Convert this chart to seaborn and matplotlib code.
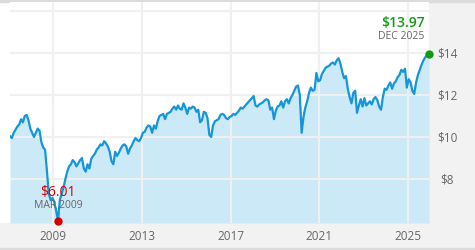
import matplotlib
matplotlib.use("Agg")
import matplotlib.pyplot as plt
import numpy as np
import pandas as pd
import seaborn as sns
from matplotlib.patches import Rectangle

# ---------------- data (monthly closing price, $) ----------------
p2007 = [10.05, 9.95, 10.2, 10.35, 10.5, 10.6, 10.85, 10.7, 11.0, 11.05, 10.8, 10.4]
p2008 = [10.2, 10.0, 10.2, 10.4, 10.3, 9.75, 9.5, 9.4, 8.4, 7.3, 7.0, 7.1]
p2009 = [6.9, 6.5, 6.01, 7.0, 7.3, 7.6, 8.0, 8.35, 8.6, 8.7, 8.9, 8.8]
p2010 = [8.6, 8.75, 8.9, 9.0, 8.5, 8.35, 8.7, 8.5, 8.95, 9.1, 9.2, 9.4]
p2011 = [9.5, 9.65, 9.6, 9.8, 9.7, 9.55, 9.3, 8.85, 8.7, 9.3, 9.1, 9.25]
p2012 = [9.45, 9.6, 9.65, 9.55, 9.2, 9.45, 9.6, 9.8, 9.95, 9.85, 9.8, 9.95]
p2013 = [10.2, 10.25, 10.45, 10.55, 10.5, 10.2, 10.55, 10.4, 10.75, 11.0, 11.05, 11.1]
p2014 = [10.85, 11.1, 11.15, 11.2, 11.35, 11.45, 11.3, 11.5, 11.35, 11.3, 11.6, 11.4]
p2015 = [11.1, 11.4, 11.35, 11.45, 11.4, 11.2, 11.3, 10.7, 10.8, 11.2, 11.15, 10.9]
p2016 = [10.1, 10.0, 10.55, 10.75, 10.8, 10.85, 11.05, 11.1, 11.05, 10.9, 10.85, 10.95]
p2017 = [11.0, 11.1, 11.05, 11.15, 11.25, 11.4, 11.35, 11.45, 11.55, 11.65, 11.75, 11.85]
p2018 = [11.95, 11.5, 11.45, 11.55, 11.6, 11.65, 11.75, 11.8, 11.75, 11.3, 11.4, 10.85]
p2019 = [11.25, 11.45, 11.5, 11.7, 11.4, 11.7, 11.8, 11.6, 11.85, 12.0, 12.2, 12.4]
p2020 = [12.45, 12.0, 10.2, 10.95, 11.4, 11.7, 12.1, 12.35, 12.2, 12.25, 13.05, 12.65]
p2021 = [12.7, 13.0, 13.15, 13.3, 13.35, 13.4, 13.5, 13.55, 13.45, 13.65, 13.75, 13.5]
p2022 = [13.1, 12.8, 12.9, 12.3, 11.9, 11.6, 12.1, 12.2, 11.15, 11.5, 11.8, 11.45]
p2023 = [11.85, 11.5, 11.6, 11.7, 11.55, 11.8, 11.9, 11.75, 11.45, 11.3, 11.9, 12.3]
p2024 = [12.25, 12.45, 12.6, 12.3, 12.55, 12.65, 12.85, 12.95, 13.2, 13.1, 13.25, 12.35]
p2025 = [12.75, 12.6, 12.2, 12.05, 12.6, 12.95, 13.2, 13.45, 13.65, 13.8, 13.9, 13.97]

start_year = 2007
yearly = [p2007, p2008, p2009, p2010, p2011, p2012, p2013, p2014, p2015,
          p2016, p2017, p2018, p2019, p2020, p2021, p2022, p2023, p2024, p2025]

x_ticks = [2009, 2013, 2017, 2021, 2025]
x_tick_labels = ["2009", "2013", "2017", "2021", "2025"]
y_ticks = [8, 10, 12, 14, 16]
y_tick_labels = ["$8", "$10", "$12", "$14", ""]

low_label, low_date = "$6.01", "MAR 2009"
last_label, last_date = "$13.97", "DEC 2025"

# ---------------- build frame ----------------
rows = []
for i, vals in enumerate(yearly):
    for m, v in enumerate(vals):
        rows.append({"t": start_year + i + (m + 0.5) / 12.0, "price": v})
df = pd.DataFrame(rows)

i_min = df["price"].idxmin()
i_last = len(df) - 1

# ---------------- styling ----------------
sns.set_theme(style="white")
plt.rcParams["font.family"] = ["Open Sans", "DejaVu Sans"]

LINE = "#1496d8"
FILL = "#cce9f7"
GRID = "#f0f0f0"
PANEL = "#f2f2f2"
STRIP = "#dcdcdc"
TXT = "#666666"

W, H = 475, 250
fig = plt.figure(figsize=(W / 100, H / 100), dpi=100)
fig.patch.set_facecolor("white")

# gray panels around plot (figure-pixel coordinates), drawn below the axes
def frect(x0, y0, x1, y1, color):
    fig.patches.append(Rectangle((x0 / W, 1 - y1 / H), (x1 - x0) / W, (y1 - y0) / H,
                                 transform=fig.transFigure, color=color, zorder=-5))

frect(429, 0, W, H, PANEL)
frect(0, 223, W, H, PANEL)
frect(0, 0, W, 2, STRIP)
frect(0, 247.5, W, H, STRIP)

ax = fig.add_axes([10 / W, 27 / H, 419 / W, 221 / H])
ax.set_facecolor("white")

ybot = 14 - (223 - 53) / 21.0
ytop = 14 + (53 - 2) / 21.0
ax.set_ylim(ybot, ytop)
ax.set_xlim(df["t"].iloc[0], df["t"].iloc[-1])

ax.fill_between(df["t"], df["price"], ybot, color=FILL, lw=0, zorder=1)
for yv in y_ticks:
    ax.axhline(yv, color=GRID, lw=1.5, zorder=2)
for xv in x_ticks:
    ax.axvline(xv, color=GRID, lw=1.5, zorder=2)

sns.lineplot(data=df, x="t", y="price", ax=ax, color=LINE, lw=1.6, zorder=3)

ax.grid(False)
for s in ax.spines.values():
    s.set_visible(False)

ax.set_xticks(x_ticks)
ax.set_xticklabels(x_tick_labels, color=TXT, fontsize=8.5)
ax.set_yticks(y_ticks)
ax.yaxis.tick_right()
ax.set_yticklabels(y_tick_labels, color=TXT, fontsize=8.5)
for lab in ax.get_yticklabels():
    lab.set_horizontalalignment("center")
ax.tick_params(axis="y", length=0, pad=13)
ax.tick_params(axis="x", length=0, pad=5)
ax.set_xlabel("")
ax.set_ylabel("")

# markers
tmin, pmin = df.loc[i_min, "t"], df.loc[i_min, "price"]
tl, pl = df.loc[i_last, "t"], df.loc[i_last, "price"]
ax.scatter([tmin], [pmin], s=36, color="#d40000", zorder=5, clip_on=False, lw=0)
ax.scatter([tl], [pl], s=36, color="#139a13", zorder=5, clip_on=False, lw=0)

ax.annotate(low_label, (tmin, pmin), xytext=(0, 20.5), textcoords="offset points",
            ha="center", va="center", color="#d40000", fontsize=10, zorder=6)
ax.annotate(low_date, (tmin, pmin), xytext=(0, 11), textcoords="offset points",
            ha="center", va="center", color=TXT, fontsize=7.5, zorder=6)
ax.annotate(last_label, (tl, pl), xytext=(-3, 22), textcoords="offset points",
            ha="right", va="center", color="#139a13", fontsize=10, fontweight="semibold", zorder=6)
ax.annotate(last_date, (tl, pl), xytext=(-3, 12), textcoords="offset points",
            ha="right", va="center", color=TXT, fontsize=7.5, zorder=6)

fig.savefig("out.png", dpi=100, facecolor=fig.get_facecolor())
